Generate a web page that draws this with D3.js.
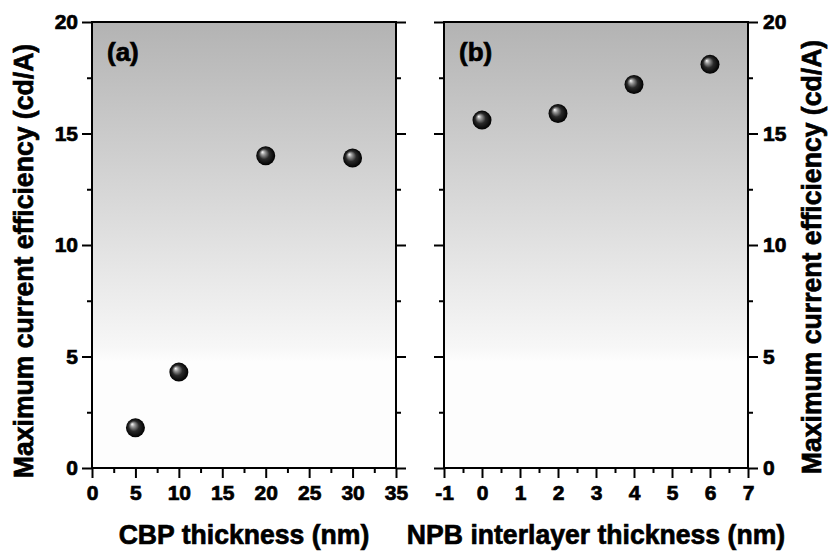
<!DOCTYPE html>
<html>
<head>
<meta charset="utf-8">
<script src="https://cdn.jsdelivr.net/npm/d3@7"></script>
<style>
  body { margin: 0; background: #fff; }
  svg { display: block; }
  text { font-family: "Liberation Sans", Arial, sans-serif; font-weight: bold; fill: #000; stroke: #000; stroke-width: 0.7px; }
</style>
</head>
<body>
<div id="chart"></div>
<script>
// panel (a): CBP thickness
const cbpThickness = [5, 10, 20, 30];
const cbpEfficiency = [1.8, 4.3, 14.0, 13.9];
// panel (b): NPB interlayer thickness
const npbThickness = [0, 2, 4, 6];
const npbEfficiency = [15.6, 15.9, 17.2, 18.1];

const yTicks = [0, 5, 10, 15, 20];
const yMinor = [2.5, 7.5, 12.5, 17.5];
const xTicksA = [0, 5, 10, 15, 20, 25, 30, 35];
const xMinorA = [2.5, 7.5, 12.5, 17.5, 22.5, 27.5, 32.5];
const xTicksB = [-1, 0, 1, 2, 3, 4, 5, 6, 7];
const xMinorB = [-0.5, 0.5, 1.5, 2.5, 3.5, 4.5, 5.5, 6.5];

const yTitle = "Maximum current efficiency (cd/A)";

const width = 828, height = 551;
const plotTop = 22, plotBottom = 468;

const svg = d3.select("#chart").append("svg")
    .attr("width", width)
    .attr("height", height);

const defs = svg.append("defs");
let bg = defs.append("linearGradient")
    .attr("id", "bg").attr("x1", 0).attr("y1", 0).attr("x2", 0).attr("y2", 1);
bg.append("stop").attr("offset", "0%").attr("stop-color", "#b3b3b3");
bg.append("stop").attr("offset", "73%").attr("stop-color", "#f7f7f7");
bg.append("stop").attr("offset", "76%").attr("stop-color", "#fdfdfd");
bg.append("stop").attr("offset", "100%").attr("stop-color", "#fdfdfd");

let ball = defs.append("radialGradient")
    .attr("id", "ball").attr("cx", "50%").attr("cy", "50%").attr("r", "50%")
    .attr("fx", "32%").attr("fy", "30%");
ball.append("stop").attr("offset", "0%").attr("stop-color", "#ffffff");
ball.append("stop").attr("offset", "22%").attr("stop-color", "#9a9a9a");
ball.append("stop").attr("offset", "55%").attr("stop-color", "#2a2a2a");
ball.append("stop").attr("offset", "100%").attr("stop-color", "#000000");

const y = d3.scaleLinear().domain([0, 20]).range([plotBottom, plotTop]);
const plain = d => String(d);

function panel(opts) {
    const x = d3.scaleLinear().domain(opts.xDomain).range([opts.left, opts.right]);
    const g = svg.append("g");

    g.append("rect")
        .attr("x", opts.left).attr("y", plotTop)
        .attr("width", opts.right - opts.left).attr("height", plotBottom - plotTop)
        .attr("fill", "url(#bg)");

    // major / minor ticks
    g.append("g").attr("transform", `translate(0,${plotBottom})`)
        .call(d3.axisBottom(x).tickValues(opts.xTicks).tickSize(10).tickSizeOuter(0).tickPadding(7).tickFormat(plain));
    g.append("g").attr("transform", `translate(0,${plotBottom})`)
        .call(d3.axisBottom(x).tickValues(opts.xMinor).tickSize(5).tickSizeOuter(0).tickFormat(""));

    g.append("g").attr("transform", `translate(${opts.left},0)`)
        .call(d3.axisLeft(y).tickValues(yTicks).tickSize(10).tickSizeOuter(0).tickPadding(4)
            .tickFormat(opts.labelSide === "left" ? plain : ""));
    g.append("g").attr("transform", `translate(${opts.left},0)`)
        .call(d3.axisLeft(y).tickValues(yMinor).tickSize(5).tickSizeOuter(0).tickFormat(""));

    g.append("g").attr("transform", `translate(${opts.right},0)`)
        .call(d3.axisRight(y).tickValues(yTicks).tickSize(10).tickSizeOuter(0).tickPadding(5)
            .tickFormat(opts.labelSide === "right" ? plain : ""));
    g.append("g").attr("transform", `translate(${opts.right},0)`)
        .call(d3.axisRight(y).tickValues(yMinor).tickSize(5).tickSizeOuter(0).tickFormat(""));

    g.selectAll(".domain").remove();
    g.selectAll(".tick line").attr("stroke", "#000").attr("stroke-width", 2);
    g.selectAll(".tick text")
        .attr("font-size", 21)
        .attr("font-weight", "bold")
        .attr("font-family", "Liberation Sans, Arial, sans-serif")
        .attr("fill", "#000");

    g.append("rect")
        .attr("x", opts.left).attr("y", plotTop)
        .attr("width", opts.right - opts.left).attr("height", plotBottom - plotTop)
        .attr("fill", "none").attr("stroke", "#000").attr("stroke-width", 2);

    g.selectAll("circle.pt")
        .data(opts.xs.map((d, i) => [d, opts.ys[i]]))
        .enter()
        .append("circle")
        .attr("class", "pt")
        .attr("cx", d => x(d[0]))
        .attr("cy", d => y(d[1]))
        .attr("r", 9.5)
        .attr("fill", "url(#ball)");

    g.append("text")
        .attr("x", opts.left + 15).attr("y", 61)
        .attr("font-size", 26)
        .text(opts.tag);

    g.append("text")
        .attr("transform", `translate(${(opts.left + opts.right) / 2},544) scale(0.95,1)`)
        .attr("text-anchor", "middle")
        .attr("font-size", 28)
        .text(opts.xTitle);
}

panel({
    left: 92, right: 396, xDomain: [0, 35],
    xTicks: xTicksA, xMinor: xMinorA,
    xs: cbpThickness, ys: cbpEfficiency,
    labelSide: "left", tag: "(a)", xTitle: "CBP thickness (nm)"
});
panel({
    left: 444, right: 748, xDomain: [-1, 7],
    xTicks: xTicksB, xMinor: xMinorB,
    xs: npbThickness, ys: npbEfficiency,
    labelSide: "right", tag: "(b)", xTitle: "NPB interlayer thickness (nm)"
});

// y axis titles
svg.append("text")
    .attr("transform", "translate(33,261) rotate(-90) scale(0.95,1)")
    .attr("text-anchor", "middle")
    .attr("font-size", 28)
    .text(yTitle);
svg.append("text")
    .attr("transform", "translate(821,257) rotate(-90) scale(0.95,1)")
    .attr("text-anchor", "middle")
    .attr("font-size", 28)
    .text(yTitle);
</script>
</body>
</html>
